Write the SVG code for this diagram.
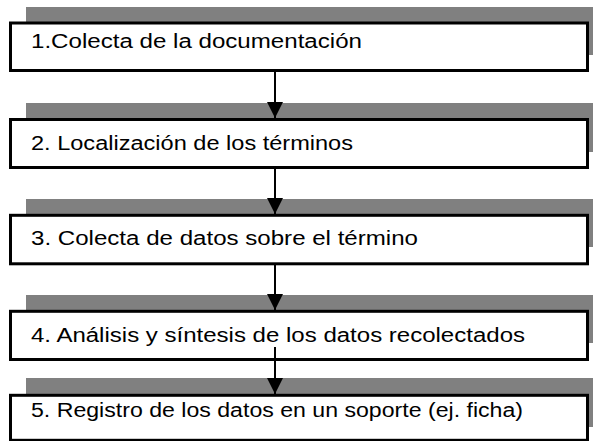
<svg xmlns="http://www.w3.org/2000/svg" width="593" height="441" viewBox="0 0 593 441">
<style>
.shadow{fill:#808080;stroke:none}
.box{fill:#ffffff;stroke:#000000;stroke-width:3}
.label{font-family:"Liberation Sans",Arial,sans-serif;font-size:20px;fill:#000000}
.conn{stroke:#000000;stroke-width:2;fill:none}
</style>
<defs>
<marker id="arrow" markerUnits="userSpaceOnUse" markerWidth="17" markerHeight="16" refX="16" refY="8" orient="auto">
<path d="M0,0 L16,8 L0,16 Z" fill="#000000"/>
</marker>
</defs>
<g id="node1">
<rect class="shadow" x="26" y="7" width="580" height="48"/>
<rect class="box" x="10.5" y="23" width="577" height="47.5"/>
<text class="label" x="31" y="47.5" textLength="331" lengthAdjust="spacingAndGlyphs">1.Colecta de la documentación</text>
</g>
<g id="node2">
<rect class="shadow" x="26" y="103" width="580" height="49"/>
<rect class="box" x="10.5" y="119.5" width="577" height="48"/>
<text class="label" x="31" y="150" textLength="322" lengthAdjust="spacingAndGlyphs">2. Localización de los términos</text>
</g>
<g id="node3">
<rect class="shadow" x="26" y="199" width="580" height="48"/>
<rect class="box" x="10.5" y="215.3" width="577" height="48.5"/>
<text class="label" x="31" y="245" textLength="387" lengthAdjust="spacingAndGlyphs">3. Colecta de datos sobre el término</text>
</g>
<g id="node4">
<rect class="shadow" x="26" y="295" width="580" height="48"/>
<rect class="box" x="10.5" y="311.3" width="577" height="48.2"/>
<text class="label" x="31" y="342" textLength="494" lengthAdjust="spacingAndGlyphs">4. Análisis y síntesis de los datos recolectados</text>
</g>
<g id="node5">
<rect class="shadow" x="26" y="378" width="580" height="49"/>
<rect class="box" x="10.5" y="395.3" width="577" height="45"/>
<text class="label" x="31" y="417" textLength="492" lengthAdjust="spacingAndGlyphs">5. Registro de los datos en un soporte (ej. ficha)</text>
</g>
<g id="connectors">
<line class="conn" x1="275" y1="70" x2="275" y2="118" marker-end="url(#arrow)"/>
<line class="conn" x1="275" y1="167" x2="275" y2="214" marker-end="url(#arrow)"/>
<line class="conn" x1="275" y1="263" x2="275" y2="310" marker-end="url(#arrow)"/>
<line class="conn" x1="275" y1="347" x2="275" y2="394" marker-end="url(#arrow)"/>
</g>
</svg>
